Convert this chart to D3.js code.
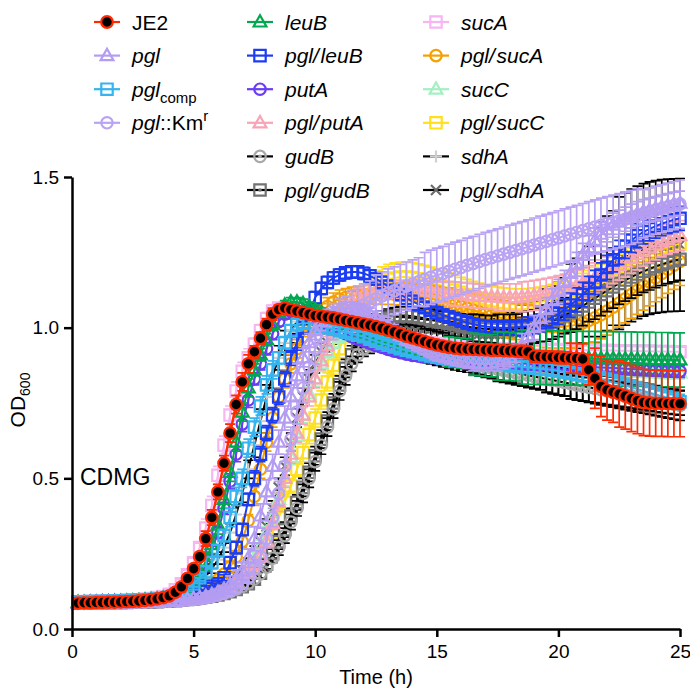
<!DOCTYPE html>
<html>
<head>
<meta charset="utf-8">
<script src="https://cdn.jsdelivr.net/npm/d3@7"></script>
<style>
  body { margin: 0; background: #fff; }
  svg text { font-family: "Liberation Sans", Arial, Helvetica, sans-serif; fill: #000; }
</style>
</head>
<body>
<div id="chart"></div>
<script>
// sampling grid: one reading every 15 min
var hours = d3.range(1, 101).map(function(i) { return i * 0.25; });

var xTicks = [0, 5, 10, 15, 20, 25];
var yTicks = [0, 0.5, 1.0, 1.5];

// OD600 means, 0.25 h ... 25 h
var je2 = [.086,.087,.087,.088,.088,.089,.089,.090,.091,.092,
  .093,.095,.097,.100,.104,.110,.122,.140,.168,.200,
  .24,.30,.37,.455,.55,.65,.745,.82,.88,.92,
  .965,1.01,1.045,1.06,1.065,1.06,1.055,1.05,1.045,1.04,
  1.038,1.035,1.032,1.028,1.024,1.02,1.016,1.012,1.008,1.003,
  .998,.992,.986,.979,.972,.966,.960,.954,.948,.943,
  .939,.935,.932,.930,.929,.928,.927,.926,.925,.925,
  .924,.923,.922,.921,.920,.905,.904,.903,.902,.901,
  .900,.899,.898,.896,.86,.832,.805,.793,.786,.78,
  .773,.765,.758,.752,.750,.749,.749,.748,.748,.748];
var pgl = [.085,.085,.086,.086,.087,.087,.087,.088,.088,.089,
  .089,.090,.090,.091,.092,.093,.094,.096,.098,.101,
  .104,.108,.114,.122,.132,.146,.166,.192,.235,.30,
  .375,.455,.54,.62,.70,.77,.84,.90,.95,.99,
  1.02,1.04,1.05,1.06,1.065,1.065,1.06,1.055,1.045,1.035,
  1.02,1.005,.99,.975,.96,.95,.94,.93,.92,.91,
  .905,.90,.895,.89,.885,.882,.88,.88,.882,.886,
  .893,.90,.915,.94,.97,1.00,1.03,1.06,1.09,1.12,
  1.15,1.18,1.21,1.24,1.265,1.29,1.31,1.325,1.34,1.35,
  1.36,1.37,1.378,1.385,1.39,1.395,1.40,1.405,1.41,1.413];
var pglComp = [.090,.090,.091,.091,.092,.092,.093,.093,.094,.095,
  .096,.097,.098,.099,.101,.105,.110,.120,.135,.150,
  .17,.19,.22,.26,.31,.37,.44,.50,.60,.67,
  .74,.81,.86,.90,.95,.99,1.01,1.015,1.015,1.01,
  1.005,1.0,.995,.99,.985,.98,.975,.97,.962,.955,
  .948,.942,.936,.930,.925,.920,.915,.910,.906,.902,
  .898,.895,.892,.89,.888,.886,.884,.882,.88,.878,
  .876,.874,.872,.870,.868,.866,.864,.862,.860,.857,
  .854,.850,.846,.842,.838,.834,.829,.824,.819,.814,
  .808,.802,.796,.790,.784,.778,.772,.766,.760,.754];
var pglKm = [.085,.085,.086,.086,.086,.087,.087,.087,.088,.088,
  .089,.089,.090,.090,.091,.092,.093,.094,.096,.098,
  .10,.103,.107,.112,.118,.126,.136,.15,.17,.20,
  .24,.30,.37,.45,.54,.63,.72,.80,.87,.93,
  .97,1.0,1.02,1.035,1.045,1.055,1.065,1.075,1.085,1.095,
  1.105,1.115,1.122,1.13,1.138,1.145,1.152,1.16,1.167,1.174,
  1.18,1.187,1.194,1.20,1.207,1.213,1.22,1.226,1.232,1.238,
  1.244,1.25,1.256,1.262,1.268,1.274,1.28,1.286,1.292,1.298,
  1.304,1.31,1.316,1.322,1.328,1.334,1.34,1.345,1.35,1.355,
  1.36,1.366,1.372,1.378,1.384,1.39,1.395,1.40,1.405,1.41];
var leuB = [.088,.088,.089,.089,.090,.090,.091,.091,.092,.093,
  .094,.095,.097,.099,.102,.106,.112,.122,.136,.155,
  .185,.225,.28,.345,.43,.52,.62,.72,.80,.86,
  .91,.96,1.01,1.05,1.075,1.085,1.085,1.08,1.07,1.06,
  1.05,1.04,1.03,1.02,1.01,1.0,.99,.98,.975,.97,
  .965,.96,.955,.95,.945,.94,.936,.932,.928,.925,
  .922,.92,.918,.916,.914,.912,.91,.908,.907,.906,
  .905,.904,.903,.903,.902,.902,.901,.901,.90,.90,
  .90,.899,.899,.898,.898,.898,.897,.897,.897,.896,
  .896,.896,.895,.895,.895,.894,.894,.894,.893,.893];
var putA = [.087,.087,.088,.088,.089,.089,.090,.090,.091,.092,
  .093,.094,.096,.098,.101,.105,.111,.120,.133,.15,
  .175,.21,.26,.32,.40,.49,.58,.68,.76,.83,
  .88,.93,.98,1.02,1.045,1.055,1.055,1.05,1.04,1.03,
  1.02,1.01,1.0,.99,.98,.97,.962,.955,.948,.94,
  .934,.928,.922,.917,.912,.908,.905,.902,.90,.898,
  .896,.894,.892,.891,.89,.889,.888,.887,.886,.885,
  .884,.883,.882,.881,.88,.879,.878,.877,.876,.875,
  .874,.873,.872,.871,.87,.869,.868,.867,.866,.865,
  .864,.863,.862,.861,.86,.859,.858,.857,.856,.855];
var pglLeuB = [.088,.088,.089,.089,.089,.090,.090,.091,.091,.092,
  .093,.094,.095,.096,.098,.100,.103,.107,.112,.118,
  .125,.133,.142,.15,.17,.22,.27,.33,.43,.50,
  .58,.65,.71,.77,.83,.90,.95,1.0,1.05,1.10,
  1.13,1.15,1.165,1.175,1.182,1.185,1.185,1.18,1.172,1.162,
  1.15,1.137,1.123,1.11,1.098,1.087,1.077,1.067,1.058,1.05,
  1.042,1.035,1.028,1.022,1.016,1.011,1.007,1.004,1.002,1.0,
  1.0,1.0,1.001,1.003,1.006,1.01,1.016,1.024,1.034,1.046,
  1.06,1.075,1.092,1.11,1.13,1.15,1.175,1.2,1.225,1.25,
  1.27,1.29,1.305,1.318,1.328,1.337,1.345,1.352,1.358,1.363];
var pglPutA = [.087,.087,.087,.088,.088,.088,.089,.089,.089,.090,
  .090,.091,.092,.093,.094,.095,.097,.099,.101,.104,
  .107,.111,.116,.122,.13,.14,.152,.168,.19,.215,
  .24,.29,.35,.42,.50,.58,.65,.71,.77,.83,
  .89,.94,.99,1.03,1.06,1.085,1.10,1.11,1.118,1.122,
  1.125,1.127,1.128,1.128,1.127,1.126,1.124,1.122,1.12,1.118,
  1.116,1.114,1.112,1.11,1.108,1.106,1.104,1.103,1.102,1.101,
  1.10,1.10,1.10,1.102,1.104,1.107,1.11,1.114,1.118,1.123,
  1.128,1.134,1.14,1.148,1.156,1.165,1.175,1.185,1.196,1.207,
  1.218,1.23,1.242,1.254,1.265,1.275,1.285,1.293,1.30,1.305];
var gudB = [.086,.086,.087,.087,.087,.088,.088,.088,.089,.089,
  .090,.090,.091,.092,.093,.094,.095,.097,.099,.101,
  .104,.107,.11,.114,.119,.125,.132,.141,.152,.166,
  .183,.205,.235,.27,.31,.355,.40,.45,.50,.555,
  .61,.67,.73,.79,.84,.88,.91,.93,.94,.945,
  .945,.943,.94,.936,.932,.928,.924,.92,.915,.91,
  .905,.90,.895,.89,.885,.88,.875,.87,.866,.862,
  .858,.854,.85,.846,.842,.838,.834,.83,.826,.822,
  .818,.814,.81,.806,.802,.798,.794,.79,.786,.782,
  .778,.774,.77,.766,.762,.758,.754,.75,.746,.742];
var pglGudB = [.086,.086,.086,.087,.087,.087,.088,.088,.088,.089,
  .089,.090,.090,.091,.092,.093,.094,.096,.098,.100,
  .103,.106,.109,.113,.118,.124,.131,.14,.15,.165,
  .185,.215,.25,.29,.33,.375,.42,.47,.52,.575,
  .63,.69,.75,.81,.865,.91,.95,.98,1.0,1.015,
  1.025,1.032,1.037,1.04,1.04,1.038,1.035,1.031,1.027,1.022,
  1.018,1.014,1.01,1.006,1.003,1.0,.998,.996,.995,.994,
  .994,.994,.995,.997,1.0,1.004,1.009,1.015,1.022,1.03,
  1.04,1.05,1.06,1.072,1.085,1.098,1.11,1.123,1.135,1.147,
  1.158,1.168,1.178,1.187,1.195,1.203,1.21,1.216,1.222,1.227];
var sucA = [.090,.091,.091,.092,.092,.093,.093,.094,.095,.096,
  .097,.099,.101,.104,.108,.115,.13,.15,.18,.22,
  .27,.335,.41,.51,.61,.71,.79,.855,.90,.945,
  .99,1.03,1.055,1.065,1.065,1.06,1.055,1.05,1.045,1.04,
  1.035,1.03,1.025,1.02,1.015,1.01,1.005,1.0,.995,.99,
  .985,.98,.975,.97,.966,.962,.958,.954,.95,.947,
  .944,.942,.94,.938,.936,.935,.934,.933,.932,.931,
  .93,.93,.929,.929,.928,.928,.928,.927,.927,.927,
  .926,.926,.926,.925,.925,.925,.924,.924,.924,.923,
  .923,.923,.922,.922,.922,.921,.921,.921,.92,.92];
var pglSucA = [.087,.087,.088,.088,.088,.089,.089,.089,.090,.090,
  .091,.092,.093,.094,.096,.098,.101,.105,.11,.117,
  .125,.135,.148,.163,.182,.205,.24,.29,.36,.44,
  .53,.62,.70,.77,.83,.88,.93,.97,1.0,1.03,
  1.05,1.07,1.085,1.095,1.10,1.105,1.108,1.11,1.111,1.112,
  1.112,1.112,1.111,1.11,1.108,1.106,1.103,1.1,1.096,1.092,
  1.087,1.082,1.076,1.07,1.064,1.058,1.052,1.046,1.04,1.035,
  1.03,1.025,1.02,1.016,1.012,1.008,1.005,1.003,1.002,1.002,
  1.003,1.006,1.01,1.016,1.024,1.033,1.043,1.055,1.068,1.082,
  1.096,1.11,1.124,1.138,1.152,1.166,1.18,1.194,1.207,1.22];
var sucC = [.086,.086,.087,.087,.087,.088,.088,.088,.089,.089,
  .090,.090,.091,.092,.093,.094,.096,.098,.100,.103,
  .106,.11,.115,.121,.128,.137,.15,.168,.195,.235,
  .275,.32,.37,.43,.50,.57,.64,.71,.78,.83,
  .88,.92,.95,.97,.98,.985,.985,.983,.98,.976,
  .972,.968,.964,.96,.955,.95,.946,.942,.938,.934,
  .93,.926,.922,.918,.915,.912,.909,.906,.903,.90,
  .898,.896,.894,.892,.89,.888,.886,.884,.882,.88,
  .878,.876,.874,.872,.87,.868,.866,.864,.862,.86,
  .858,.857,.856,.855,.854,.853,.852,.851,.85,.85];
var pglSucC = [.086,.086,.087,.087,.087,.088,.088,.088,.089,.089,
  .090,.090,.091,.092,.093,.094,.096,.098,.100,.103,
  .106,.109,.113,.118,.124,.131,.140,.152,.172,.21,
  .245,.285,.32,.37,.42,.475,.53,.585,.645,.70,
  .76,.82,.875,.93,.98,1.03,1.07,1.10,1.125,1.14,
  1.152,1.16,1.165,1.168,1.168,1.166,1.162,1.157,1.151,1.145,
  1.138,1.131,1.124,1.117,1.11,1.104,1.098,1.093,1.089,1.085,
  1.082,1.08,1.079,1.079,1.08,1.082,1.085,1.089,1.094,1.10,
  1.107,1.114,1.122,1.13,1.14,1.15,1.16,1.171,1.182,1.193,
  1.204,1.215,1.225,1.235,1.244,1.252,1.26,1.267,1.273,1.278];
var sdhA = [.088,.088,.089,.089,.090,.090,.091,.091,.092,.093,
  .094,.095,.097,.099,.102,.106,.111,.118,.127,.14,
  .155,.175,.20,.23,.27,.32,.38,.45,.53,.61,
  .69,.77,.84,.90,.95,.99,1.02,1.04,1.045,1.04,
  1.03,1.02,1.01,1.0,.99,.98,.972,.965,.958,.952,
  .946,.94,.934,.928,.922,.916,.91,.905,.90,.895,
  .89,.885,.88,.876,.872,.868,.864,.86,.856,.852,
  .848,.844,.84,.836,.832,.828,.824,.82,.816,.812,
  .808,.804,.80,.797,.794,.791,.788,.785,.782,.779,
  .776,.773,.77,.767,.764,.761,.758,.755,.752,.75];
var pglSdhA = [.087,.087,.088,.088,.088,.089,.089,.089,.090,.090,
  .091,.091,.092,.093,.094,.096,.098,.10,.103,.107,
  .112,.118,.125,.134,.145,.158,.174,.194,.22,.25,
  .29,.34,.40,.47,.54,.62,.70,.77,.83,.88,
  .92,.95,.975,.99,1.0,1.005,1.008,1.01,1.01,1.01,
  1.01,1.01,1.008,1.006,1.004,1.002,1.0,.998,.996,.994,
  .992,.99,.988,.986,.984,.982,.98,.98,.98,.98,
  .98,.981,.983,.986,.99,.995,1.0,1.008,1.018,1.03,
  1.045,1.062,1.08,1.1,1.12,1.14,1.16,1.18,1.198,1.214,
  1.228,1.24,1.25,1.258,1.264,1.268,1.271,1.273,1.274,1.275];

// SD read per hour (0 h ... 25 h)
var je2Sd     = [.004,.004,.004,.004,.005,.01,.025,.03,.02,.015,.015,.015,.015,.015,.015,.015,.015,.015,.015,.02,.02,.05,.10,.11,.11,.11];
var pglSd     = [.004,.004,.004,.004,.004,.005,.01,.03,.04,.04,.03,.02,.02,.02,.02,.02,.02,.025,.03,.04,.04,.04,.04,.04,.04,.04];
var pglCompSd = [.004,.004,.004,.004,.006,.01,.02,.03,.03,.02,.015,.015,.015,.015,.015,.015,.015,.015,.015,.02,.02,.02,.025,.025,.025,.025];
var pglKmSd   = [.004,.004,.004,.004,.004,.005,.008,.015,.03,.04,.05,.06,.07,.08,.08,.09,.09,.09,.09,.09,.09,.09,.09,.09,.08,.08];
var leuBSd    = [.004,.004,.004,.004,.005,.01,.03,.03,.02,.015,.015,.015,.015,.02,.025,.03,.05,.07,.08,.09,.09,.09,.09,.09,.09,.09];
var putASd    = [.004,.004,.004,.004,.005,.01,.02,.025,.02,.015,.015,.015,.015,.015,.015,.015,.02,.02,.02,.02,.02,.02,.02,.02,.02,.02];
var pglLeuBSd = [.004,.004,.004,.004,.005,.006,.01,.02,.025,.025,.02,.02,.02,.02,.02,.02,.02,.02,.025,.03,.035,.04,.04,.04,.04,.04];
var pglPutASd = [.004,.004,.004,.004,.004,.005,.006,.01,.02,.03,.03,.03,.03,.03,.03,.035,.04,.04,.045,.05,.05,.05,.05,.05,.05,.05];
var gudBSd    = [.004,.004,.004,.004,.004,.005,.006,.01,.015,.025,.03,.03,.025,.02,.02,.02,.025,.03,.035,.04,.045,.05,.05,.05,.05,.05];
var pglGudBSd = [.004,.004,.004,.004,.004,.005,.006,.01,.015,.025,.03,.03,.03,.03,.03,.035,.04,.045,.05,.055,.06,.065,.07,.07,.07,.07];
var sucASd    = [.004,.004,.004,.004,.006,.015,.03,.03,.02,.015,.015,.015,.015,.015,.015,.015,.015,.015,.015,.015,.015,.015,.015,.015,.015,.015];
var pglSucASd = [.004,.004,.004,.004,.004,.005,.008,.02,.03,.03,.03,.03,.03,.035,.04,.045,.05,.055,.06,.065,.07,.075,.08,.08,.08,.08];
var sucCSd    = [.004,.004,.004,.004,.004,.005,.006,.01,.02,.025,.025,.02,.02,.02,.02,.02,.02,.02,.02,.02,.02,.02,.02,.02,.02,.02];
var pglSucCSd = [.004,.004,.004,.004,.004,.005,.006,.01,.02,.025,.03,.03,.04,.05,.05,.05,.05,.05,.05,.05,.05,.05,.05,.05,.05,.05];
var sdhASd    = [.004,.004,.004,.004,.005,.008,.015,.03,.04,.04,.03,.025,.02,.02,.02,.02,.02,.025,.03,.03,.035,.04,.04,.04,.04,.04];
var pglSdhASd = [.004,.004,.004,.004,.004,.005,.008,.015,.025,.03,.03,.03,.03,.03,.03,.03,.03,.05,.07,.09,.12,.15,.19,.22,.22,.22];

// label pieces: [text, style] with i = italic, n = normal, sub, sup
var series = [
  {label: [["JE2","n"]], values: je2, sd: je2Sd, line: "#ff2a00", mark: "dot", mc: "#ff2a00"},
  {label: [["pgl","i"]], values: pgl, sd: pglSd, line: "#b39cf2", mark: "triangle", mc: "#b39cf2"},
  {label: [["pgl","i"],["comp","sub"]], values: pglComp, sd: pglCompSd, line: "#35b4ef", mark: "square", mc: "#35b4ef"},
  {label: [["pgl","i"],["::Km","n"],["r","sup"]], values: pglKm, sd: pglKmSd, line: "#b9a3f2", mark: "circle", mc: "#b9a3f2"},
  {label: [["leuB","i"]], values: leuB, sd: leuBSd, line: "#00a84f", mark: "triangle", mc: "#00a84f"},
  {label: [["pgl/\u200AleuB","i"]], values: pglLeuB, sd: pglLeuBSd, line: "#1b3cf2", mark: "square", mc: "#1b3cf2"},
  {label: [["putA","i"]], values: putA, sd: putASd, line: "#6a3cf4", mark: "circle", mc: "#6a3cf4"},
  {label: [["pgl/\u200AputA","i"]], values: pglPutA, sd: pglPutASd, line: "#f7a5b6", mark: "triangle", mc: "#f7a5b6"},
  {label: [["gudB","i"]], values: gudB, sd: gudBSd, line: "#000", mark: "circleDot", mc: "#a8a8a8"},
  {label: [["pgl/\u200AgudB","i"]], values: pglGudB, sd: pglGudBSd, line: "#000", mark: "squareDot", mc: "#727272"},
  {label: [["sucA","i"]], values: sucA, sd: sucASd, line: "#f6b6f2", mark: "square", mc: "#f6b6f2"},
  {label: [["pgl/\u200AsucA","i"]], values: pglSucA, sd: pglSucASd, line: "#f5a000", mark: "circle", mc: "#f5a000"},
  {label: [["sucC","i"]], values: sucC, sd: sucCSd, line: "#a6efc3", mark: "triangle", mc: "#a6efc3"},
  {label: [["pgl/\u200AsucC","i"]], values: pglSucC, sd: pglSucCSd, line: "#ffe01e", mark: "square", mc: "#ffe01e"},
  {label: [["sdhA","i"]], values: sdhA, sd: sdhASd, line: "#000", mark: "plus", mc: "#cfcfcf"},
  {label: [["pgl/\u200AsdhA","i"]], values: pglSdhA, sd: pglSdhASd, line: "#000", mark: "cross", mc: "#6c6c6c"}
];

var width = 690, height = 689;
var svg = d3.select("#chart").append("svg")
  .attr("width", width)
  .attr("height", height);

var x = d3.scaleLinear().domain([0, 25]).range([72, 680]);
var y = d3.scaleLinear().domain([0, 1.5]).range([629, 177]);

function markPath(type) {
  var r = 5.7;
  switch (type) {
    case "square": case "squareDot":
      return "M" + (-r) + "," + (-r) + "h" + (2 * r) + "v" + (2 * r) + "h" + (-2 * r) + "Z";
    case "triangle":
      return "M0,-6.8L6.4,4.5L-6.4,4.5Z";
    case "plus":
      return "M-6,0H6M0,-6V6";
    case "cross":
      return "M-5,-5L5,5M-5,5L5,-5";
    default:
      return d3.symbol(d3.symbolCircle, Math.PI * r * r)();
  }
}

function drawMark(g, s, px, py) {
  var m = g.append("g").attr("transform", "translate(" + px + "," + py + ")");
  if (s.mark === "dot") {
    m.append("circle").attr("r", 5.8).attr("fill", "#000").attr("stroke", s.mc).attr("stroke-width", 2.2);
    return;
  }
  m.append("path").attr("d", markPath(s.mark))
    .attr("fill", "none").attr("stroke", s.mc).attr("stroke-width", 2.2);
  if (s.mark === "circleDot" || s.mark === "squareDot") {
    m.append("circle").attr("r", 1.8).attr("fill", s.mc);
  }
}

var line = d3.line()
  .x(function(d, i) { return x(hours[i]); })
  .y(function(d) { return y(d); });

var plot = svg.append("g").attr("class", "plot");

// last data set at the bottom, JE2 on top
series.slice().reverse().forEach(function(s) {
  var g = plot.append("g");
  var bars = "";
  s.values.forEach(function(v, i) {
    var sd = s.sd[Math.round(hours[i])];
    var px = x(hours[i]), y1 = y(v + sd), y2 = y(v - sd);
    bars += "M" + px + "," + y1 + "V" + y2 +
      "M" + (px - 5) + "," + y1 + "H" + (px + 5) +
      "M" + (px - 5) + "," + y2 + "H" + (px + 5);
  });
  g.append("path").attr("d", line(s.values))
    .attr("fill", "none").attr("stroke", s.line)
    .attr("stroke-width", s.mark === "dot" ? 2.5 : 2);
  g.append("path").attr("d", bars)
    .attr("fill", "none").attr("stroke", s.line).attr("stroke-width", 1.7);
  s.values.forEach(function(v, i) {
    drawMark(g, s, x(hours[i]), y(v));
  });
});

// axes
var xAxis = svg.append("g")
  .attr("transform", "translate(0,629)")
  .call(d3.axisBottom(x).tickValues(xTicks).tickSize(8).tickSizeOuter(0).tickPadding(8)
    .tickFormat(d3.format("d")));
var yAxis = svg.append("g")
  .attr("transform", "translate(72,0)")
  .call(d3.axisLeft(y).tickValues(yTicks).tickSize(8).tickSizeOuter(0).tickPadding(5)
    .tickFormat(d3.format(".1f")));
[xAxis, yAxis].forEach(function(a) {
  a.select(".domain").attr("stroke", "#000").attr("stroke-width", 2.5);
  a.selectAll(".tick line").attr("stroke", "#000").attr("stroke-width", 2.5);
  a.selectAll(".tick text").attr("font-size", 19)
    .style("font-family", "'Liberation Sans', Arial, sans-serif").attr("fill", "#000");
});

svg.append("text")
  .attr("x", 376).attr("y", 684)
  .attr("text-anchor", "middle")
  .attr("font-size", 20)
  .text("Time (h)");

var yt = svg.append("text")
  .attr("transform", "translate(25,400) rotate(-90)")
  .attr("text-anchor", "middle")
  .attr("font-size", 21);
yt.append("tspan").text("OD");
yt.append("tspan").attr("font-size", 14).attr("dy", 5).text("600");

svg.append("text")
  .attr("x", 80).attr("y", 485)
  .attr("font-size", 23)
  .text("CDMG");

// legend, three columns
var legendCols = [107, 260, 436];
var legendRows = [4, 6, 6];
var legend = svg.append("g");
var k = 0;
legendRows.forEach(function(n, c) {
  for (var r = 0; r < n; r++) {
    var s = series[k++];
    var cy = 22 + r * 33.6, cx = legendCols[c];
    var lg = legend.append("g");
    lg.append("line")
      .attr("x1", cx - 13).attr("x2", cx + 13)
      .attr("y1", cy).attr("y2", cy)
      .attr("stroke", s.line).attr("stroke-width", 2.2);
    drawMark(lg, s, cx, cy);
    var t = lg.append("text")
      .attr("x", cx + 25).attr("y", cy + 7.5)
      .attr("font-size", 21);
    s.label.forEach(function(p) {
      var ts = t.append("tspan").text(p[0]);
      if (p[1] === "i") ts.attr("font-style", "italic");
      if (p[1] === "sub") ts.attr("font-size", 15).attr("dy", 6);
      if (p[1] === "sup") ts.attr("font-size", 15).attr("dy", -9);
    });
  }
});
</script>
</body>
</html>
